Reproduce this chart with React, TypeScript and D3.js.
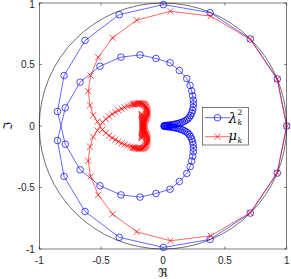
import * as d3 from "d3";

type Pt = [number, number];

const tickValues = [-1, -0.5, 0, 0.5, 1];
const tickLabels = ["-1", "-0.5", "0", "0.5", "1"];

// lambda_k^2 : k = 0 sits at 1, k > 0 runs round the outer arc then spirals in
const lambdaZero: Pt = [1, 0];
const lambdaOuterUpper: Pt[] = [
  [0.924, 0.383], [0.706, 0.708], [0.381, 0.922], [0.003, 0.987],
  [-0.354, 0.905], [-0.63, 0.695], [-0.8, 0.41], [-0.853, 0.118],
];
const lambdaInnerLower: Pt[] = [
  [-0.79, -0.148], [-0.67, -0.356], [-0.51, -0.486], [-0.34, -0.56],
  [-0.186, -0.578], [-0.057, -0.549], [0.057, -0.514], [0.132, -0.451],
  [0.192, -0.386], [0.219, -0.33], [0.232, -0.285], [0.24, -0.245],
  [0.245, -0.21], [0.246, -0.18], [0.244, -0.152], [0.239, -0.127],
  [0.232, -0.105], [0.223, -0.086], [0.212, -0.07], [0.2, -0.057],
  [0.187, -0.047], [0.173, -0.039], [0.159, -0.032], [0.145, -0.027],
  [0.131, -0.023], [0.117, -0.019], [0.104, -0.016], [0.091, -0.013],
  [0.079, -0.011], [0.068, -0.009], [0.057, -0.007], [0.047, -0.006],
  [0.038, -0.005], [0.03, -0.004], [0.022, -0.003], [0.015, -0.002],
  [0.009, -0.001],
];
// k < 0 (conjugates)
const lambdaOuterLower: Pt[] = [
  [0.924, -0.383], [0.706, -0.708], [0.381, -0.922], [0.003, -0.987],
  [-0.354, -0.905], [-0.63, -0.695], [-0.8, -0.41], [-0.853, -0.118],
];
const lambdaInnerUpper: Pt[] = [
  [-0.79, 0.148], [-0.67, 0.356], [-0.51, 0.486], [-0.34, 0.56],
  [-0.186, 0.578], [-0.057, 0.549], [0.057, 0.514], [0.132, 0.451],
  [0.192, 0.386], [0.219, 0.33], [0.232, 0.285], [0.24, 0.245],
  [0.245, 0.21], [0.246, 0.18], [0.244, 0.152], [0.239, 0.127],
  [0.232, 0.105], [0.223, 0.086], [0.212, 0.07], [0.2, 0.057],
  [0.187, 0.047], [0.173, 0.039], [0.159, 0.032], [0.145, 0.027],
  [0.131, 0.023], [0.117, 0.019], [0.104, 0.016], [0.091, 0.013],
  [0.079, 0.011], [0.068, 0.009], [0.057, 0.007], [0.047, 0.006],
  [0.038, 0.005], [0.03, 0.004], [0.022, 0.003], [0.015, 0.002],
  [0.009, 0.001],
];

// mu_k, same layout
const muZero: Pt = [1, 0];
const muOuterUpper: Pt[] = [
  [0.923, 0.38], [0.705, 0.705], [0.386, 0.893], [0.06, 0.933],
  [-0.213, 0.86], [-0.407, 0.717], [-0.524, 0.559], [-0.585, 0.41],
  [-0.605, 0.283], [-0.59, 0.168], [-0.564, 0.088], [-0.53, 0.035],
];
const muInnerLower: Pt[] = [
  [-0.49, -0.03], [-0.462, -0.056], [-0.436, -0.078], [-0.41, -0.097],
  [-0.385, -0.113], [-0.36, -0.127], [-0.335, -0.14], [-0.31, -0.151],
  [-0.286, -0.161], [-0.263, -0.169], [-0.246, -0.174], [-0.239, -0.176],
  [-0.232, -0.177], [-0.224, -0.179], [-0.216, -0.181], [-0.208, -0.182],
  [-0.2, -0.183], [-0.193, -0.184], [-0.186, -0.184], [-0.179, -0.184],
  [-0.172, -0.183], [-0.166, -0.181], [-0.16, -0.179], [-0.155, -0.176],
  [-0.15, -0.172], [-0.146, -0.168], [-0.142, -0.163], [-0.139, -0.158],
  [-0.136, -0.152], [-0.134, -0.146], [-0.132, -0.14], [-0.13, -0.134],
  [-0.129, -0.127], [-0.128, -0.12], [-0.127, -0.113], [-0.127, -0.106],
  [-0.127, -0.099], [-0.128, -0.092], [-0.129, -0.085], [-0.131, -0.078],
  [-0.133, -0.071], [-0.136, -0.064], [-0.139, -0.057], [-0.142, -0.05],
  [-0.145, -0.043], [-0.148, -0.036], [-0.151, -0.029], [-0.154, -0.022],
  [-0.156, -0.015], [-0.158, -0.008], [-0.16, -0.001], [-0.162, 0.006],
  [-0.163, 0.013], [-0.165, 0.02], [-0.166, 0.028], [-0.167, 0.036],
  [-0.168, 0.044], [-0.169, 0.052], [-0.17, 0.06], [-0.17, 0.068],
  [-0.171, 0.076], [-0.171, 0.084], [-0.172, 0.092], [-0.172, 0.1],
];
const muOuterLower: Pt[] = [
  [0.923, -0.38], [0.705, -0.705], [0.386, -0.893], [0.06, -0.933],
  [-0.213, -0.86], [-0.407, -0.717], [-0.524, -0.559], [-0.585, -0.41],
  [-0.605, -0.283], [-0.59, -0.168], [-0.564, -0.088], [-0.53, -0.035],
];
const muInnerUpper: Pt[] = [
  [-0.49, 0.03], [-0.462, 0.056], [-0.436, 0.078], [-0.41, 0.097],
  [-0.385, 0.113], [-0.36, 0.127], [-0.335, 0.14], [-0.31, 0.151],
  [-0.286, 0.161], [-0.263, 0.169], [-0.246, 0.174], [-0.239, 0.176],
  [-0.232, 0.177], [-0.224, 0.179], [-0.216, 0.181], [-0.208, 0.182],
  [-0.2, 0.183], [-0.193, 0.184], [-0.186, 0.184], [-0.179, 0.184],
  [-0.172, 0.183], [-0.166, 0.181], [-0.16, 0.179], [-0.155, 0.176],
  [-0.15, 0.172], [-0.146, 0.168], [-0.142, 0.163], [-0.139, 0.158],
  [-0.136, 0.152], [-0.134, 0.146], [-0.132, 0.14], [-0.13, 0.134],
  [-0.129, 0.127], [-0.128, 0.12], [-0.127, 0.113], [-0.127, 0.106],
  [-0.127, 0.099], [-0.128, 0.092], [-0.129, 0.085], [-0.131, 0.078],
  [-0.133, 0.071], [-0.136, 0.064], [-0.139, 0.057], [-0.142, 0.05],
  [-0.145, 0.043], [-0.148, 0.036], [-0.151, 0.029], [-0.154, 0.022],
  [-0.156, 0.015], [-0.158, 0.008], [-0.16, 0.001], [-0.162, -0.006],
  [-0.163, -0.013], [-0.165, -0.02], [-0.166, -0.028], [-0.167, -0.036],
  [-0.168, -0.044], [-0.169, -0.052], [-0.17, -0.06], [-0.17, -0.068],
  [-0.171, -0.076], [-0.171, -0.084], [-0.172, -0.092], [-0.172, -0.1],
];

// order by k: -K .. 0 .. K
const chain = (outU: Pt[], inL: Pt[], outL: Pt[], inU: Pt[], zero: Pt): Pt[] => [
  ...inU.slice().reverse(),
  ...outL.slice().reverse(),
  zero,
  ...outU,
  ...inL,
];

const lambdaSq = chain(lambdaOuterUpper, lambdaInnerLower, lambdaOuterLower, lambdaInnerUpper, lambdaZero);
const mu = chain(muOuterUpper, muInnerLower, muOuterLower, muInnerUpper, muZero);

const App = () => {
  const width = 291,
    height = 279;
  const axisColor = "#262626";

  const x = d3.scaleLinear([-1, 1], [39.3, 286.7]);
  const y = d3.scaleLinear([-1, 1], [249, 3]);
  const line = d3.line<Pt>((d) => x(d[0]), (d) => y(d[1]));
  const cross = d3.symbol(d3.symbolTimes, 26)() as string;
  const tick = 2.5;

  return (
    <svg
      width={width}
      height={height}
      style={{ position: "absolute", left: 0, top: 0, background: "#fff" }}
    >
      <rect x={0} y={0} width={width} height={height} fill="#fff" />
      {/* unit circle */}
      <ellipse
        cx={x(0)}
        cy={y(0)}
        rx={x(1) - x(0)}
        ry={y(0) - y(1)}
        fill="none"
        stroke="#333"
        strokeWidth={0.7}
      />

      {/* lambda_k^2 */}
      <path d={line(lambdaSq) ?? ""} fill="none" stroke="#0000ff" strokeWidth={0.6} />
      <g fill="none" stroke="#0000ff" strokeWidth={0.7}>
        {lambdaSq.map((d, i) => (
          <circle key={i} cx={x(d[0])} cy={y(d[1])} r={3.3} />
        ))}
      </g>

      {/* mu_k */}
      <path d={line(mu) ?? ""} fill="none" stroke="#ff0000" strokeWidth={0.6} />
      <g fill="none" stroke="#ff0000" strokeWidth={0.7}>
        {mu.map((d, i) => (
          <path key={i} d={cross} transform={`translate(${x(d[0])},${y(d[1])})`} />
        ))}
      </g>

      {/* axes box and ticks */}
      <g stroke={axisColor} strokeWidth={0.6} fill="none">
        <rect x={x(-1)} y={y(1)} width={x(1) - x(-1)} height={y(-1) - y(1)} />
        {tickValues.map((t) => (
          <g key={t}>
            <line x1={x(t)} x2={x(t)} y1={y(-1)} y2={y(-1) - tick} />
            <line x1={x(t)} x2={x(t)} y1={y(1)} y2={y(1) + tick} />
            <line x1={x(-1)} x2={x(-1) + tick} y1={y(t)} y2={y(t)} />
            <line x1={x(1)} x2={x(1) - tick} y1={y(t)} y2={y(t)} />
          </g>
        ))}
      </g>
      <g fill={axisColor} fontFamily="Liberation Sans, Arial, sans-serif" fontSize={10}>
        {tickValues.map((t, i) => (
          <text key={"x" + t} x={x(t)} y={y(-1) + 14.5} textAnchor="middle">
            {tickLabels[i]}
          </text>
        ))}
        {tickValues.map((t, i) => (
          <text key={"y" + t} x={x(-1) - 4.5} y={Math.max(y(t) + 3.5, 7.5)} textAnchor="end">
            {tickLabels[i]}
          </text>
        ))}
      </g>

      {/* axis labels */}
      <text
        x={x(0)}
        y={277}
        textAnchor="middle"
        fontFamily="DejaVu Sans, sans-serif"
        fontSize={12}
        fill={axisColor}
      >
        ℜ
      </text>
      <text
        transform={`translate(11.5,${y(0)}) rotate(-90)`}
        textAnchor="middle"
        fontFamily="DejaVu Sans, sans-serif"
        fontSize={12}
        fill={axisColor}
      >
        ℑ
      </text>

      {/* legend */}
      <rect x={202.3} y={107.3} width={46} height={37.7} fill="#fff" stroke={axisColor} strokeWidth={0.6} />
      <line x1={205} x2={230} y1={117.7} y2={117.7} stroke="#0000ff" strokeWidth={0.6} />
      <circle cx={217.5} cy={117.7} r={3.3} fill="none" stroke="#0000ff" strokeWidth={0.7} />
      <line x1={205} x2={230} y1={136.7} y2={136.7} stroke="#ff0000" strokeWidth={0.6} />
      <path d={cross} transform="translate(217.5,136.7)" fill="none" stroke="#ff0000" strokeWidth={0.7} />
      <g fontFamily="DejaVu Serif, serif" fontStyle="italic" fill="#000">
        <text x={228.5} y={123} fontSize={14}>λ</text>
        <text x={237.5} y={114.8} fontSize={7.5} fontStyle="normal">2</text>
        <text x={237.5} y={124.8} fontSize={7.5}>k</text>
        <text x={228.5} y={139.5} fontSize={13}>μ</text>
        <text x={237.5} y={142.5} fontSize={7.5}>k</text>
      </g>
    </svg>
  );
};

export default App;
